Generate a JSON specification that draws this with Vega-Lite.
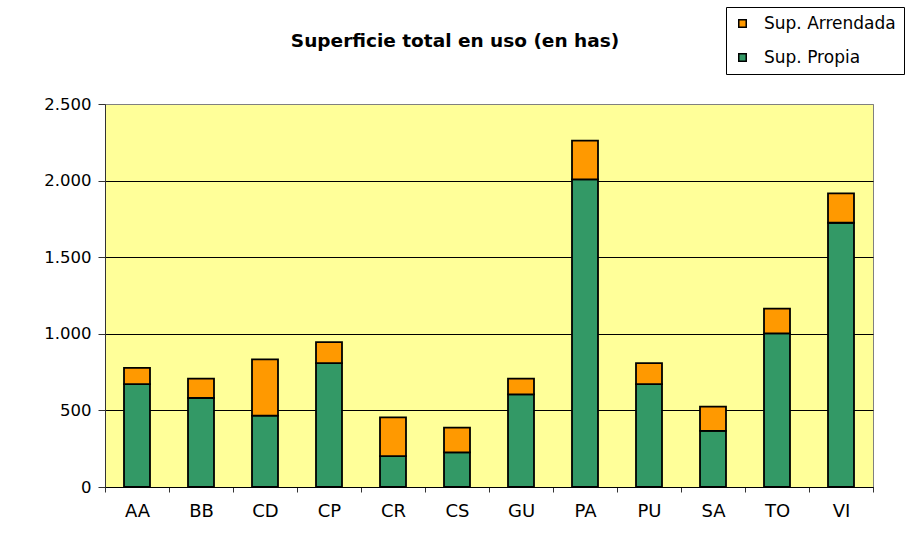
{
  "$schema": "https://vega.github.io/schema/vega-lite/v6.json",
  "width": 768,
  "height": 383,
  "autosize": {"type": "none"},
  "padding": {"left": 105, "top": 104, "right": 32, "bottom": 60},
  "background": "white",
  "title": {
    "text": "Superficie total en uso (en has)",
    "font": "DejaVu Sans",
    "fontSize": 18.5,
    "fontWeight": "bold",
    "color": "#000",
    "anchor": "middle",
    "frame": "group",
    "dx": -34,
    "offset": 0,
    "dy": 59,
    "baseline": "alphabetic"
  },
  "data": {
    "values": [
      {"zona": "AA", "tipo": "Sup. Propia", "has": 672},
      {"zona": "AA", "tipo": "Sup. Arrendada", "has": 105},
      {"zona": "BB", "tipo": "Sup. Propia", "has": 581},
      {"zona": "BB", "tipo": "Sup. Arrendada", "has": 126},
      {"zona": "CD", "tipo": "Sup. Propia", "has": 466},
      {"zona": "CD", "tipo": "Sup. Arrendada", "has": 367},
      {"zona": "CP", "tipo": "Sup. Propia", "has": 809},
      {"zona": "CP", "tipo": "Sup. Arrendada", "has": 137},
      {"zona": "CR", "tipo": "Sup. Propia", "has": 202},
      {"zona": "CR", "tipo": "Sup. Arrendada", "has": 253},
      {"zona": "CS", "tipo": "Sup. Propia", "has": 226},
      {"zona": "CS", "tipo": "Sup. Arrendada", "has": 161},
      {"zona": "GU", "tipo": "Sup. Propia", "has": 605},
      {"zona": "GU", "tipo": "Sup. Arrendada", "has": 102},
      {"zona": "PA", "tipo": "Sup. Propia", "has": 2008},
      {"zona": "PA", "tipo": "Sup. Arrendada", "has": 253},
      {"zona": "PU", "tipo": "Sup. Propia", "has": 672},
      {"zona": "PU", "tipo": "Sup. Arrendada", "has": 137},
      {"zona": "SA", "tipo": "Sup. Propia", "has": 366},
      {"zona": "SA", "tipo": "Sup. Arrendada", "has": 158},
      {"zona": "TO", "tipo": "Sup. Propia", "has": 1003},
      {"zona": "TO", "tipo": "Sup. Arrendada", "has": 161},
      {"zona": "VI", "tipo": "Sup. Propia", "has": 1725},
      {"zona": "VI", "tipo": "Sup. Arrendada", "has": 192}
    ]
  },
  "mark": {"type": "bar", "size": 26, "stroke": "#000", "strokeWidth": 1.8},
  "encoding": {
    "x": {
      "field": "zona",
      "type": "nominal",
      "sort": null,
      "scale": {"paddingInner": 0, "paddingOuter": 0},
      "axis": {
        "title": null,
        "labelAngle": 0,
        "tickBand": "extent",
        "tickSize": 5,
        "tickColor": "#333",
        "domainColor": "#000",
        "labelPadding": 10,
        "labelFont": "DejaVu Sans",
        "labelFontSize": 18,
        "labelColor": "#000"
      }
    },
    "y": {
      "field": "has",
      "type": "quantitative",
      "stack": "zero",
      "scale": {"domain": [0, 2500], "nice": false},
      "axis": {
        "title": null,
        "values": [0, 500, 1000, 1500, 2000, 2500],
        "labelExpr": "replace(format(datum.value, ','), ',', '.')",
        "grid": true,
        "gridColor": {"condition": {"test": "datum.value == 2500", "value": "#808080"}, "value": "#000"},
        "gridWidth": 1,
        "gridOpacity": 1,
        "tickSize": 7,
        "tickColor": "#333",
        "domainColor": "#333",
        "labelPadding": 7,
        "labelFont": "DejaVu Sans",
        "labelFontSize": 16.5,
        "labelColor": "#000"
      }
    },
    "color": {
      "field": "tipo",
      "type": "nominal",
      "scale": {"domain": ["Sup. Arrendada", "Sup. Propia"], "range": ["#FF9900", "#339966"]},
      "legend": {
        "orient": "none",
        "legendX": 621,
        "legendY": -97,
        "title": null,
        "direction": "vertical",
        "symbolType": "square",
        "symbolSize": 56,
        "symbolStrokeColor": "#000",
        "symbolStrokeWidth": 1.5,
        "symbolOpacity": 1,
        "labelFont": "DejaVu Sans",
        "labelFontSize": 17,
        "labelColor": "#000",
        "labelOffset": 13,
        "rowPadding": 16,
        "padding": 8,
        "strokeColor": "#000",
        "fillColor": "#fff"
      }
    },
    "order": {"field": "tipo", "sort": "descending"}
  },
  "config": {
    "view": {"fill": "#FFFF99", "stroke": "#808080"}
  }
}
